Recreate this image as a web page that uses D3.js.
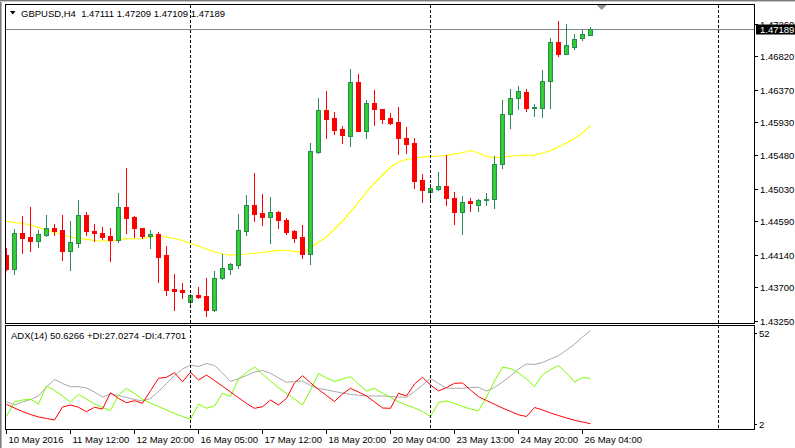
<!DOCTYPE html>
<html><head><meta charset="utf-8">
<script src="https://cdn.jsdelivr.net/npm/d3@7"></script>
<style>html,body{margin:0;padding:0;background:#fff;overflow:hidden}svg{display:block}</style>
</head><body><svg id="c" width="795" height="448"></svg>
<script>
const symbol = "GBPUSD,H4";
const open = [1.44138,1.43953,1.44434,1.44380,1.44330,1.44411,1.44502,1.44475,1.44196,1.44304,
1.44673,1.44461,1.44430,1.44394,1.44344,1.44785,1.44650,1.44502,1.44394,1.44421,
1.44138,1.43679,1.43666,1.43508,1.43598,1.43585,1.43400,1.43823,1.43953,1.44007,
1.44465,1.44812,1.44704,1.44654,1.44718,1.44610,1.44461,1.44376,1.44155,1.45531,
1.46093,1.45985,1.45837,1.45747,1.46471,1.45814,1.46188,1.46107,1.45990,1.45932,
1.45716,1.45648,1.45149,1.44991,1.45032,1.45068,1.44906,1.44722,1.44866,1.44808,
1.44875,1.44889,1.45361,1.46035,1.46251,1.46336,1.46124,1.46124,1.46480,1.47011,
1.46853,1.46947,1.47060,1.47111];
const high = [1.44232,1.44488,1.44664,1.44785,1.44471,1.44677,1.44556,1.44677,1.44596,1.44879,
1.44718,1.44556,1.44511,1.44502,1.44974,1.45311,1.44668,1.44506,1.44475,1.44448,
1.44259,1.43881,1.43764,1.43616,1.43706,1.43827,1.43922,1.44151,1.44034,1.44691,
1.44947,1.45244,1.44960,1.44920,1.44731,1.44633,1.44479,1.44542,1.45648,1.46255,
1.46350,1.46066,1.45878,1.46642,1.46579,1.46228,1.46363,1.46112,1.46053,1.46134,
1.45864,1.45712,1.45226,1.45095,1.45257,1.45482,1.44987,1.44933,1.44902,1.44893,
1.44974,1.45473,1.46228,1.46373,1.46413,1.46373,1.46170,1.46633,1.47065,1.47294,
1.47249,1.47114,1.47176,1.47209];
const low = [1.43935,1.43885,1.44165,1.44196,1.44250,1.44398,1.44403,1.44074,1.43939,1.44246,
1.44411,1.44326,1.44353,1.44061,1.44313,1.44434,1.44376,1.44367,1.44236,1.43777,
1.43594,1.43400,1.43562,1.43440,1.43558,1.43319,1.43386,1.43814,1.43881,1.43966,
1.44411,1.44600,1.44538,1.44304,1.44502,1.44421,1.44317,1.44101,1.44016,1.45509,
1.45720,1.45774,1.45652,1.45612,1.45810,1.45720,1.45891,1.45922,1.45905,1.45500,
1.45509,1.45045,1.44857,1.44870,1.45018,1.44812,1.44560,1.44417,1.44735,1.44735,
1.44816,1.44776,1.45311,1.45847,1.46103,1.46080,1.46016,1.46003,1.46124,1.46826,
1.46845,1.46920,1.47033,1.47109];
const close = [1.43953,1.44430,1.44367,1.44330,1.44417,1.44498,1.44461,1.44196,1.44309,1.44673,
1.44465,1.44438,1.44380,1.44344,1.44781,1.44641,1.44506,1.44398,1.44421,1.44115,
1.43670,1.43656,1.43643,1.43594,1.43571,1.43400,1.43823,1.43958,1.44012,1.44471,
1.44808,1.44695,1.44654,1.44718,1.44614,1.44452,1.44371,1.44155,1.45540,1.46093,
1.45968,1.45828,1.45760,1.46471,1.45814,1.46184,1.46107,1.45976,1.45922,1.45720,
1.45639,1.45140,1.45018,1.45041,1.45068,1.44910,1.44722,1.44852,1.44835,1.44875,
1.44889,1.45365,1.46035,1.46251,1.46350,1.46124,1.46134,1.46485,1.47011,1.46853,
1.46970,1.47051,1.47118,1.47189];
const movingAvg = [1.44592,1.44576,1.44562,1.44542,1.44508,1.44475,1.44441,1.44407,1.44380,1.44360,
1.44347,1.44333,1.44326,1.44326,1.44340,1.44360,1.44353,1.44360,1.44380,1.44387,
1.44380,1.44360,1.44333,1.44293,1.44259,1.44219,1.44178,1.44151,1.44134,1.44144,
1.44151,1.44161,1.44171,1.44185,1.44201,1.44198,1.44185,1.44171,1.44232,1.44313,
1.44380,1.44488,1.44596,1.44718,1.44852,1.44987,1.45109,1.45217,1.45325,1.45392,
1.45426,1.45446,1.45459,1.45469,1.45473,1.45482,1.45500,1.45517,1.45547,1.45513,
1.45466,1.45453,1.45459,1.45473,1.45480,1.45482,1.45486,1.45513,1.45544,1.45594,
1.45648,1.45712,1.45783,1.45884];
const adx = [15.59,13.97,15.44,16.67,18.40,22.83,26.52,24.55,22.97,22.97,
22.33,20.36,17.90,19.38,18.64,17.66,16.67,15.94,17.17,20.61,
24.55,28.48,31.68,33.65,32.91,34.39,33.41,29.72,25.53,26.86,
28.48,30.21,30.95,29.57,27.25,25.14,25.53,25.78,23.56,22.09,
21.45,20.61,19.87,19.18,18.79,18.40,18.40,18.40,18.15,17.90,
17.76,20.61,23.81,27.01,24.55,22.19,22.19,22.19,22.58,22.68,
20.86,22.58,25.29,28.24,31.68,34.14,33.90,34.88,36.61,38.23,
41.03,43.84,47.43,50.6266];
const plusDI = [8.31,15.44,16.43,16.77,14.46,23.32,21.10,18.40,15.44,19.14,
16.92,14.46,12.74,11.16,18.89,22.09,19.63,16.67,14.95,13.23,
11.51,9.78,8.31,6.93,14.46,12.34,13.48,19.73,18.15,26.76,
29.96,32.67,29.22,25.78,22.48,19.72,16.92,13.97,21.35,29.47,
27.25,25.53,26.76,27.89,24.30,20.86,22.09,19.87,17.66,15.44,
13.97,12.49,10.77,8.21,15.20,15.94,14.71,13.23,12.00,11.01,
17.90,25.78,32.52,31.93,29.72,26.76,23.07,28.73,31.44,33.41,
29.72,25.29,27.50,27.0274];
const minusDI = [14.31,12.49,10.77,9.29,8.06,7.32,6.59,12.98,13.97,12.84,
10.67,12.84,12.00,20.02,17.17,15.10,16.08,14.80,20.96,27.11,
27.60,29.86,25.43,30.06,26.27,28.73,26.02,23.22,20.36,17.56,
14.71,12.34,13.13,16.43,13.97,17.26,24.79,28.39,24.89,21.60,
18.64,15.69,19.38,22.19,20.36,18.40,15.44,12.49,12.34,19.73,
18.40,24.30,27.60,23.81,20.86,22.58,24.65,24.79,21.35,18.05,
16.18,14.31,12.49,10.82,9.14,8.31,12.74,11.51,10.03,8.80,
7.57,6.44,5.60,4.7701];
const priceTicks = [1.47260,1.46820,1.46370,1.45930,1.45480,1.45030,1.44590,1.44140,1.43700,1.43250];
const adxTicks = [52, 2];
const timeLabels = ["10 May 2016","11 May 12:00","12 May 20:00","16 May 05:00","17 May 12:00","18 May 20:00","20 May 04:00","23 May 13:00","24 May 20:00","26 May 04:00"];
const timeLabelBars = [0,8,16,24,32,40,48,56,64,72];
const separatorBars = [23,53,89];
const shiftMarkerBar = 74.4;

const FONT = "'Liberation Sans', Arial, sans-serif";
const svg = d3.select("#c");
const L = 5.5, R = 754.5, T1 = 4.5, B1 = 323.5, T2 = 325.5, B2 = 429.5;

const x = d3.scaleLinear().domain([0, 73]).range([6.5, 590.5]);
const y = d3.scaleLinear().domain([1.43220, 1.47510]).range([323, 5]);
const ya = d3.scaleLinear().domain([1.66, 52.84]).range([430, 326]);

// window edge
svg.append("rect").attr("x",0).attr("y",0).attr("width",795).attr("height",448).attr("fill","#fff");
svg.append("rect").attr("x",0).attr("y",0).attr("width",1).attr("height",448).attr("fill","#7a7a7a");
svg.append("rect").attr("x",1).attr("y",0).attr("width",1).attr("height",448).attr("fill","#b4b4b4");
svg.append("rect").attr("x",0).attr("y",0).attr("width",795).attr("height",1).attr("fill","#7a7a7a");
svg.append("rect").attr("x",0).attr("y",1).attr("width",795).attr("height",1).attr("fill","#c8c8c8");

const defs = svg.append("defs");
defs.append("clipPath").attr("id","cm").append("rect").attr("x",6).attr("y",5).attr("width",748).attr("height",318);
defs.append("clipPath").attr("id","ci").append("rect").attr("x",6).attr("y",326).attr("width",748).attr("height",103);

const gm = svg.append("g").attr("clip-path","url(#cm)");
const gi = svg.append("g").attr("clip-path","url(#ci)");

// current price line
const cy = Math.round(y(close[close.length-1])) + 0.5;
gm.append("line").attr("x1",6).attr("x2",754).attr("y1",cy).attr("y2",cy)
  .attr("stroke","#7d8891").attr("stroke-width",1).attr("shape-rendering","crispEdges");

// moving average
gm.append("path").datum(movingAvg)
  .attr("d", d3.line().x((d,i)=>x(i)).y(d=>y(d)))
  .attr("fill","none").attr("stroke","#ffff00").attr("stroke-width",1.2);

// candles
const idx = d3.range(open.length);
const cg = gm.append("g").attr("shape-rendering","crispEdges");
idx.forEach(i => {
  const cx = x(i);
  const bull = close[i] >= open[i];
  const wickCol = bull ? "#2a8a50" : "#ff0000";
  const hy = Math.round(y(high[i])), ly = Math.round(y(low[i]));
  cg.append("rect").attr("x",cx-0.5).attr("y",hy).attr("width",1).attr("height",Math.max(1,ly-hy+1)).attr("fill",wickCol);
  const top = Math.round(y(Math.max(open[i],close[i])));
  const bot = Math.round(y(Math.min(open[i],close[i])));
  if (bull) {
    const h = Math.max(1, bot-top);
    if (bot - top < 2) {
      cg.append("rect").attr("x",cx-2.5).attr("y",top).attr("width",5).attr("height",Math.max(1,bot-top+1)).attr("fill","#2a8a50");
    } else {
      cg.append("rect").attr("x",cx-2).attr("y",top+0.5).attr("width",4).attr("height",h)
        .attr("fill","#32cd32").attr("stroke","#2a8a50").attr("stroke-width",1);
    }
  } else {
    cg.append("rect").attr("x",cx-2.5).attr("y",top).attr("width",5).attr("height",Math.max(1,bot-top+1)).attr("fill","#ff0000");
  }
});

// shift marker
const sx = x(shiftMarkerBar);
svg.append("path").attr("d",`M${sx-5},5 L${sx+5},5 L${sx},10 Z`).attr("fill","#8a949c");

// indicator lines
const lineA = d3.line().x((d,i)=>x(i)).y(d=>ya(d));
gi.append("path").datum(adx).attr("d",lineA).attr("fill","none").attr("stroke","#a9a9a9").attr("stroke-width",1);
gi.append("path").datum(plusDI).attr("d",lineA).attr("fill","none").attr("stroke","#7cfc00").attr("stroke-width",1);
gi.append("path").datum(minusDI).attr("d",lineA).attr("fill","none").attr("stroke","#ff0000").attr("stroke-width",1);

// separators
separatorBars.forEach(b => {
  svg.append("line").attr("x1",x(b)).attr("x2",x(b)).attr("y1",5).attr("y2",429)
    .attr("stroke","#000").attr("stroke-width",1).attr("stroke-dasharray","3,2").attr("shape-rendering","crispEdges");
});

// frames
svg.append("rect").attr("x",L).attr("y",T1).attr("width",R-L).attr("height",B1-T1)
  .attr("fill","none").attr("stroke","#000").attr("shape-rendering","crispEdges");
svg.append("rect").attr("x",L).attr("y",T2).attr("width",R-L).attr("height",B2-T2)
  .attr("fill","none").attr("stroke","#000").attr("shape-rendering","crispEdges");

// price axis
const pa = svg.append("g").attr("font-family",FONT).attr("font-size","9.5px").attr("fill","#000");
priceTicks.forEach(p => {
  const ty = Math.round(y(p)) + 0.5;
  svg.append("line").attr("x1",754).attr("x2",758).attr("y1",ty).attr("y2",ty).attr("stroke","#000").attr("shape-rendering","crispEdges");
  pa.append("text").attr("x",760).attr("y",ty).attr("dy","0.35em").text(p.toFixed(5));
});
// current price box
svg.append("rect").attr("x",756).attr("y",cy-5).attr("width",39).attr("height",10).attr("fill","#000");
svg.append("text").attr("x",760).attr("y",cy).attr("dy","0.35em").attr("font-family",FONT).attr("font-size","9.5px")
  .attr("fill","#fff").text(close[close.length-1].toFixed(5));

// adx axis
adxTicks.forEach((v,j) => {
  const ty = Math.round(ya(v)) + 0.5;
  const off = j === 0 ? 5 : -5;
  svg.append("line").attr("x1",754).attr("x2",757).attr("y1",ty+off).attr("y2",ty+off).attr("stroke","#000").attr("shape-rendering","crispEdges");
  svg.append("text").attr("x",759).attr("y",ty+off).attr("dy","0.35em").attr("font-family",FONT).attr("font-size","9.5px").text(v);
});

// time axis
timeLabels.forEach((t,j) => {
  const tx = x(timeLabelBars[j]);
  svg.append("line").attr("x1",tx).attr("x2",tx).attr("y1",430).attr("y2",434).attr("stroke","#000").attr("shape-rendering","crispEdges");
  svg.append("text").attr("x",tx+2).attr("y",442.5).attr("font-family",FONT).attr("font-size","9.5px").text(t);
});

// headers
svg.append("path").attr("d","M10,11 L15.5,11 L12.75,14.5 Z").attr("fill","#000");
const last = open.length-1;
svg.append("text").attr("x",21).attr("y",16.5).attr("font-family",FONT).attr("font-size","9.5px").attr("xml:space","preserve")
  .text(`${symbol}  ${open[last].toFixed(5)} ${high[last].toFixed(5)} ${low[last].toFixed(5)} ${close[last].toFixed(5)}`);
svg.append("text").attr("x",11).attr("y",338.5).attr("font-family",FONT).attr("font-size","9.5px")
  .text(`ADX(14) ${adx[last].toFixed(4)} +DI:${plusDI[last].toFixed(4)} -DI:${minusDI[last].toFixed(4)}`);
</script></body></html>
